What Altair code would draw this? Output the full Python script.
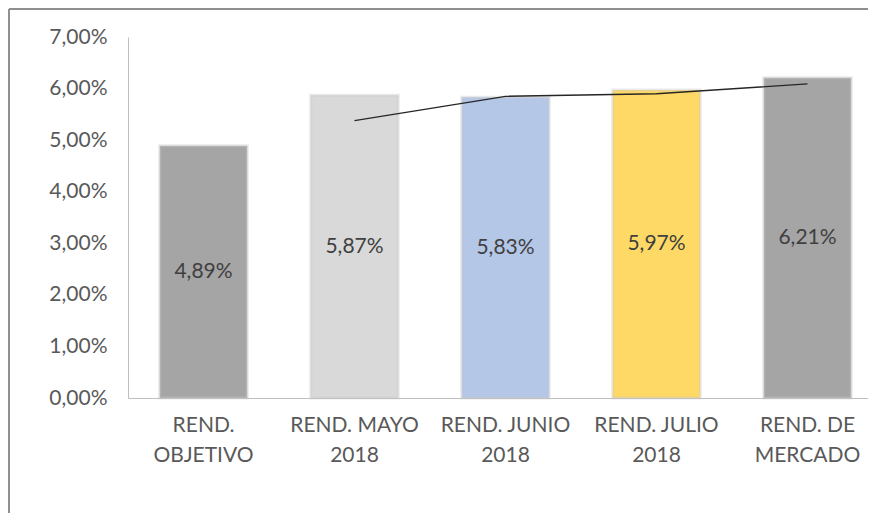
import altair as alt
import pandas as pd

categories = ["REND.\nOBJETIVO", "REND. MAYO\n2018", "REND. JUNIO\n2018", "REND. JULIO\n2018", "REND. DE\nMERCADO"]
values = [4.89, 5.87, 5.83, 5.97, 6.21]
trend = [None, 5.38, 5.85, 5.90, 6.09]
bar_colors = ["#a5a5a5", "#d9d9d9", "#b4c7e7", "#ffd966", "#a5a5a5"]
y_ticks = [0, 1, 2, 3, 4, 5, 6, 7]

FONT = "Lato, Open Sans, sans-serif"

df = pd.DataFrame({"cat": categories, "v": values, "trend": trend})

x_scale = alt.Scale(range=[0, 755], paddingInner=0.42, paddingOuter=0.21)
y_scale = alt.Scale(domain=[0, 7], nice=False)

x_enc = alt.X(
    "cat:N",
    sort=categories,
    title=None,
    scale=x_scale,
    axis=alt.Axis(
        labelExpr="split(datum.label, '\\n')",
        labelAngle=0,
        labelFontSize=21,
        labelFont=FONT,
        labelColor="#595959",
        labelLineHeight=30,
        labelPadding=16,
        ticks=False,
        grid=False,
        domainColor="#bfbfbf",
        domainWidth=1,
        labelBaseline="top",
    ),
)

base = alt.Chart(df)

bars = base.mark_bar(stroke="#c8c8c8", strokeWidth=3, strokeOpacity=0.4).encode(
    x=x_enc,
    y=alt.Y(
        "v:Q",
        title=None,
        scale=y_scale,
        axis=alt.Axis(
            values=y_ticks,
            labelExpr="replace(format(datum.value / 100, '.2%'), '.', ',')",
            labelFontSize=21,
            labelFont=FONT,
            labelColor="#595959",
            labelPadding=21,
            ticks=False,
            grid=False,
            domainColor="#bfbfbf",
        ),
    ),
    color=alt.Color("cat:N", scale=alt.Scale(domain=categories, range=bar_colors), legend=None),
)

labels = base.transform_calculate(
    mid="datum.v / 2",
    txt="replace(format(datum.v / 100, '.2%'), '.', ',')",
).mark_text(fontSize=21, font=FONT, color="#404040", baseline="middle").encode(
    x=alt.X("cat:N", sort=categories),
    y=alt.Y("mid:Q"),
    text="txt:N",
)

line = base.transform_filter("isValid(datum.trend)").mark_line(color="#262626", strokeWidth=1.3).encode(
    x=alt.X("cat:N", sort=categories),
    y=alt.Y("trend:Q"),
)

frame_top = alt.Chart(df).mark_rule(color="#8c8c8c", strokeWidth=1).encode(
    x=alt.value(-119), x2=alt.value(900), y=alt.value(-28)
)
frame_left = alt.Chart(df).mark_rule(color="#8c8c8c", strokeWidth=1).encode(
    x=alt.value(-119), y=alt.value(-28), y2=alt.value(600)
)

chart = alt.layer(bars, labels, line, frame_top, frame_left).properties(
    width=740,
    height=361,
    background="white",
    autosize=alt.AutoSizeParams(type="none"),
    padding={"left": 120, "top": 29, "right": 0, "bottom": 115},
).configure_view(stroke="transparent", strokeWidth=0)

chart.save("out.html", embed_options={"renderer": "svg", "actions": False})
